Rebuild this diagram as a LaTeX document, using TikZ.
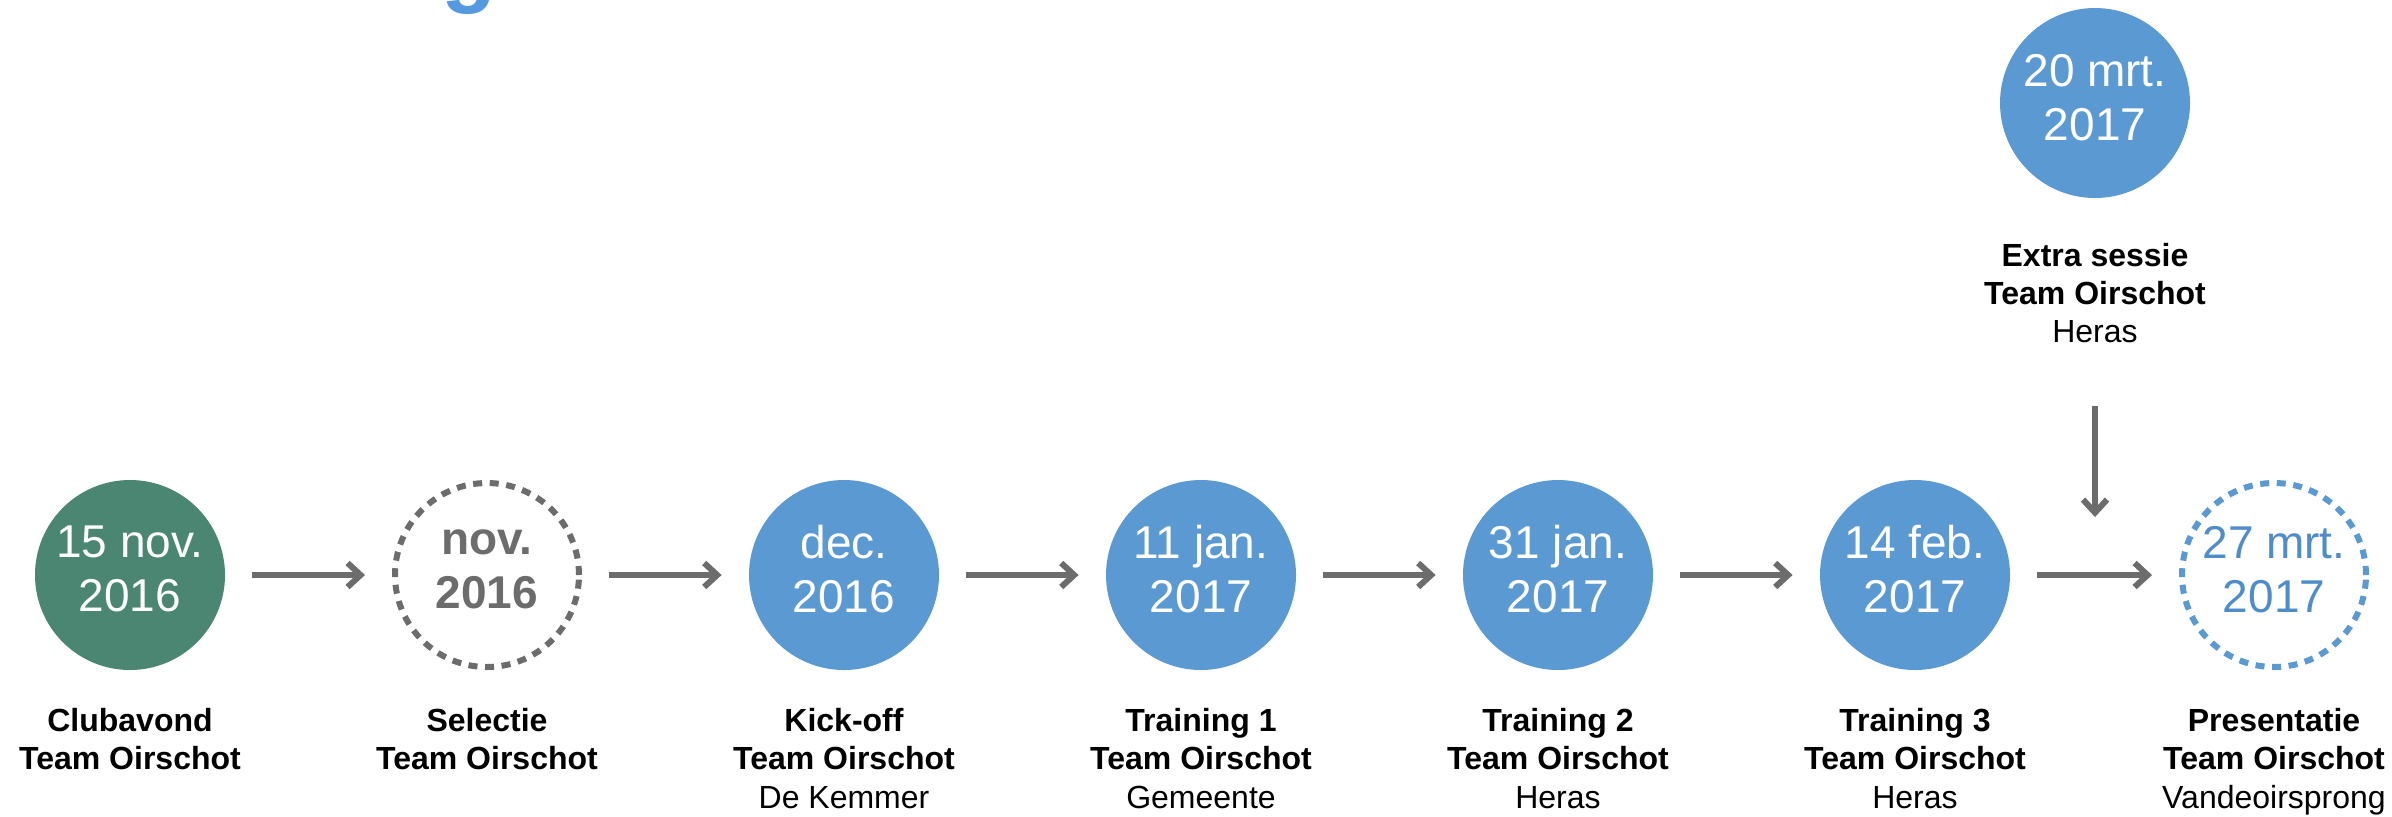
\documentclass[tikz,border=0pt]{standalone}
\usepackage{fontspec}
\setmainfont{Liberation Sans}
\usetikzlibrary{arrows.meta}
\definecolor{cgreen}{RGB}{74,134,114}
\definecolor{cblue}{RGB}{91,153,211}
\definecolor{cbluetext}{RGB}{78,140,202}
\definecolor{cgray}{RGB}{108,108,108}
\definecolor{ctitle}{RGB}{85,153,224}
\begin{document}
\begin{tikzpicture}[x=0.5pt,y=-0.5pt,
  datefont/.style={font=\fontsize{23}{27}\selectfont},
  datefill/.style={circle, minimum size=95pt, inner sep=0pt, align=center, text=white,
    text depth=6pt, datefont},
  datedash/.style={circle, minimum size=92pt, inner sep=0pt, align=center, line width=3pt,
    dash pattern=on 4.5pt off 3.8pt, fill=white, text depth=6pt, datefont},
  lbold/.style={anchor=base, inner sep=0pt, font=\fontsize{16}{19}\selectfont\bfseries},
  lplain/.style={anchor=base, inner sep=0pt, font=\fontsize{16}{19}\selectfont},
  conn/.style={draw=cgray, line width=3pt, -{Straight Barb[length=6.5pt,width=12pt]}, shorten <=13.5pt, shorten >=13.5pt},
]
\clip (0,0) rectangle (2392,816);
\path[use as bounding box] (0,0) rectangle (2392,816);

% cut-off title fragment
\node[anchor=base, inner sep=0pt, text=ctitle, font=\fontsize{45}{50}\selectfont\bfseries] (title) at (469,-5) {g};

% date circles
\node[datefill, fill=cgreen] (c1) at (130,575) {15 nov.\\2016};
\node[datedash, draw=cgray, text=cgray, font=\fontsize{23}{27}\selectfont\bfseries] (c2) at (487,575) {nov.\\2016};
\node[datefill, fill=cblue] (c3) at (844,575) {dec.\\2016};
\node[datefill, fill=cblue] (c4) at (1201,575) {11 jan.\\2017};
\node[datefill, fill=cblue] (c5) at (1558,575) {31 jan.\\2017};
\node[datefill, fill=cblue] (c6) at (1915,575) {14 feb.\\2017};
\node[datedash, draw=cblue, text=cbluetext] (c7) at (2274,575) {27 mrt.\\2017};
\node[datefill, fill=cblue] (c8) at (2095,103) {20 mrt.\\2017};

% labels
\node[lbold] (l1a) at (130,731) {Clubavond};
\node[lbold] (l1b) at (130,769) {Team Oirschot};
\node[lbold] (l2a) at (487,731) {Selectie};
\node[lbold] (l2b) at (487,769) {Team Oirschot};
\node[lbold] (l3a) at (844,731) {Kick-off};
\node[lbold] (l3b) at (844,769) {Team Oirschot};
\node[lplain] (l3c) at (844,808) {De Kemmer};
\node[lbold] (l4a) at (1201,731) {Training 1};
\node[lbold] (l4b) at (1201,769) {Team Oirschot};
\node[lplain] (l4c) at (1201,808) {Gemeente};
\node[lbold] (l5a) at (1558,731) {Training 2};
\node[lbold] (l5b) at (1558,769) {Team Oirschot};
\node[lplain] (l5c) at (1558,808) {Heras};
\node[lbold] (l6a) at (1915,731) {Training 3};
\node[lbold] (l6b) at (1915,769) {Team Oirschot};
\node[lplain] (l6c) at (1915,808) {Heras};
\node[lbold] (l7a) at (2274,731) {Presentatie};
\node[lbold] (l7b) at (2274,769) {Team Oirschot};
\node[lplain] (l7c) at (2274,808) {Vandeoirsprong};
\node[lbold] (l8a) at (2095,266) {Extra sessie};
\node[lbold] (l8b) at (2095,304) {Team Oirschot};
\node[lplain] (l8c) at (2095,342) {Heras};

% connectors
\draw[conn] (c1) -- (c2);
\draw[conn] (c2) -- (c3);
\draw[conn] (c3) -- (c4);
\draw[conn] (c4) -- (c5);
\draw[conn] (c5) -- (c6);
\draw[conn] (c6) -- (c7);
\coordinate (vtop) at (2095,406);
\coordinate (vbot) at (2095,517);
\draw[conn, shorten <=0pt, shorten >=0pt] (vtop) -- (vbot);
\end{tikzpicture}
\end{document}
